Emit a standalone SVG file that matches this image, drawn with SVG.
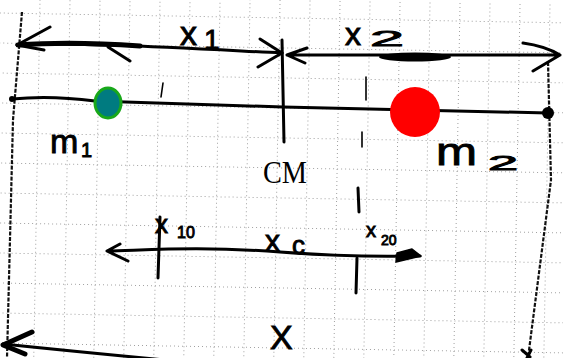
<svg xmlns="http://www.w3.org/2000/svg" width="563" height="358" viewBox="0 0 563 358">
<style>
.grid line{stroke:#a0a0a0;stroke-width:1;stroke-dasharray:1 3}
.ink{fill:none;stroke:#000;stroke-width:3;stroke-linecap:round;stroke-linejoin:round}
.thick{fill:none;stroke:#000;stroke-width:5;stroke-linecap:round;stroke-linejoin:round}
.thin{fill:none;stroke:#000;stroke-width:1.6;stroke-linecap:round}
.dotted{fill:none;stroke:#111;stroke-width:2.2;stroke-dasharray:4 1.5}
.hw{font-family:"Liberation Sans","DejaVu Sans",sans-serif;fill:#000;stroke:#000;stroke-width:0.9}
.serif{font-family:"Liberation Serif","DejaVu Serif",serif;fill:#000}
</style>
<rect width="563" height="358" fill="#fff"/>
<g id="grid" class="grid" transform="rotate(1)">
<line x1="0" y1="13" x2="570" y2="13"/><line x1="0" y1="43" x2="570" y2="43"/><line x1="0" y1="73" x2="570" y2="73"/><line x1="0" y1="103" x2="570" y2="103"/><line x1="0" y1="133" x2="570" y2="133"/><line x1="0" y1="163" x2="570" y2="163"/><line x1="0" y1="193" x2="570" y2="193"/><line x1="0" y1="223" x2="570" y2="223"/><line x1="0" y1="253" x2="570" y2="253"/><line x1="0" y1="283" x2="570" y2="283"/><line x1="0" y1="313" x2="570" y2="313"/><line x1="0" y1="343" x2="570" y2="343"/>
<line x1="40" y1="-5" x2="40" y2="365"/><line x1="70" y1="-5" x2="70" y2="365"/><line x1="100" y1="-5" x2="100" y2="365"/><line x1="130" y1="-5" x2="130" y2="365"/><line x1="160" y1="-5" x2="160" y2="365"/><line x1="190" y1="-5" x2="190" y2="365"/><line x1="220" y1="-5" x2="220" y2="365"/><line x1="250" y1="-5" x2="250" y2="365"/><line x1="280" y1="-5" x2="280" y2="365"/><line x1="310" y1="-5" x2="310" y2="365"/><line x1="340" y1="-5" x2="340" y2="365"/><line x1="370" y1="-5" x2="370" y2="365"/><line x1="400" y1="-5" x2="400" y2="365"/><line x1="430" y1="-5" x2="430" y2="365"/><line x1="460" y1="-5" x2="460" y2="365"/><line x1="490" y1="-5" x2="490" y2="365"/><line x1="520" y1="-5" x2="520" y2="365"/><line x1="550" y1="-5" x2="550" y2="365"/>
</g>
<g id="connectors">
<path class="dotted" d="M22,12 L13,120 L7,358"/>
<path class="dotted" d="M548,62 L551,180 L528,358"/>
<path class="ink" stroke-width="2.5" d="M12,99 Q50,95 95,101 L283,107 L548,113"/>
<path class="ink" d="M282,40 L284,142"/>
<path class="ink" d="M17,45 C80,42 180,48 282,53"/>
<path class="thick" d="M18,45 Q70,41 140,46"/>
<path class="ink" d="M50,27 L17,45 L44,50 M108,47 L130,61 M260,39 L282,53 L258,67"/>
<path class="ink" d="M287,55 L560,55 M307,48 L287,55 L305,63 M523,43 Q545,46 560,55 L533,71"/>
<ellipse cx="415" cy="57" rx="36" ry="4.5" fill="#000"/>
<path class="thin" d="M163,83 L161,97 M366,77 L366,100 M362,132 L362,147"/>
<path class="ink" d="M107,251 C150,250 200,246 280,252 S390,256 420,256 M120,244 L107,251 L128,261"/>
<path d="M397,253 L412,249 L421,256 L396,262 Z" fill="#000" stroke="#000" stroke-width="1.5" stroke-linejoin="round"/>
<path class="ink" stroke-width="2" d="M160,217 L158,278 M358,188 L359,212 M357,258 L356,293"/>
<path class="ink" stroke-width="2" d="M3,344 Q80,352 165,360"/>
<path class="thick" d="M32,332 L3,345 L25,354"/>
<path class="ink" d="M522,350 L530,357 M531,350 L527,358"/>
</g>
<g id="m1"><ellipse cx="108" cy="103" rx="13" ry="15" fill="#007b80" stroke="#19a81a" stroke-width="3"/></g>
<g id="m2"><circle cx="415" cy="112" r="25" fill="#ff0000"/></g>
<g id="ends"><circle cx="12" cy="99" r="3" fill="#000"/><circle cx="548" cy="113" r="6" fill="#000"/></g>
<g id="labels">
<text class="hw" x="180" y="45" font-size="34">x</text><text class="hw" x="204" y="49" font-size="28">1</text>
<text class="hw" x="345" y="45" font-size="32">x</text><text class="hw" x="370" y="46" font-size="22" textLength="34" lengthAdjust="spacingAndGlyphs">2</text>
<text class="hw" x="50" y="153" font-size="34">m</text><text class="hw" x="81" y="157" font-size="20">1</text>
<text class="hw" x="436" y="165" font-size="38" textLength="41" lengthAdjust="spacingAndGlyphs">m</text><text class="hw" x="488" y="170" font-size="20" textLength="30" lengthAdjust="spacingAndGlyphs">2</text>
<text class="serif" x="263" y="183" font-size="32" textLength="44" lengthAdjust="spacingAndGlyphs">CM</text>
<text class="hw" x="155" y="233" font-size="26">x</text><text class="hw" x="177" y="238" font-size="16" stroke-width="0.5">10</text>
<text class="hw" x="265" y="251" font-size="30">x</text><text class="hw" x="292" y="254" font-size="26">c</text>
<text class="hw" x="366" y="237" font-size="20" stroke-width="0.6">x</text><text class="hw" x="381" y="245" font-size="14" stroke-width="0.5">20</text>
<text class="hw" x="270" y="349" font-size="34">X</text>
</g>
</svg>
